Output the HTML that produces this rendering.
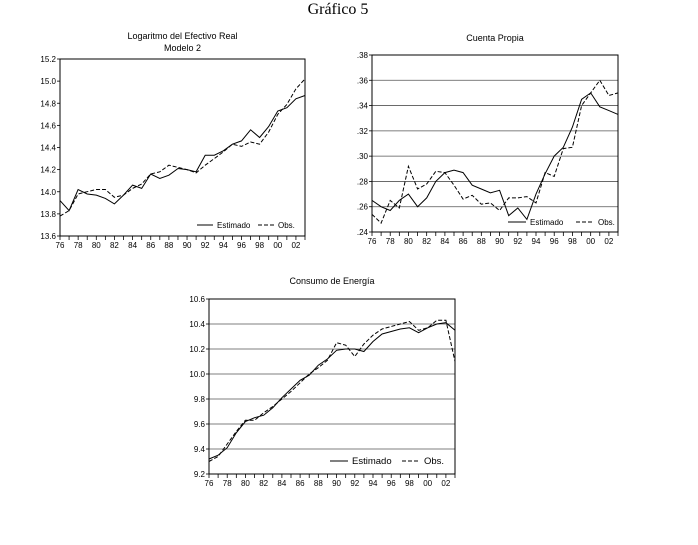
<!DOCTYPE html>
<html><head><meta charset="utf-8">
<style>
html,body{margin:0;padding:0;background:#fff;width:698px;height:545px;overflow:hidden}
svg{display:block}
text{font-family:"Liberation Sans",Arial,sans-serif;fill:#000}
</style></head>
<body>
<svg id="svg" width="698" height="545" viewBox="0 0 698 545">
<text x="338" y="14" text-anchor="middle" style="font-family:'Liberation Serif',serif;font-size:16px">Gráfico 5</text>
</svg>
<script>
const years = [];
for (let y = 1976; y <= 2003; y++) years.push(y);
const xTickLabels = ["76","78","80","82","84","86","88","90","92","94","96","98","00","02"];

const efectivoEst = [13.92,13.83,14.02,13.98,13.97,13.94,13.89,13.97,14.06,14.03,14.16,14.12,14.15,14.21,14.20,14.18,14.33,14.33,14.37,14.43,14.46,14.56,14.49,14.59,14.73,14.76,14.84,14.87];
const efectivoObs = [13.78,13.83,13.98,14.00,14.02,14.02,13.95,13.97,14.03,14.07,14.16,14.18,14.24,14.22,14.20,14.17,14.24,14.30,14.36,14.43,14.41,14.45,14.43,14.54,14.70,14.79,14.93,15.02];
const efectivoTicks = [13.6,13.8,14.0,14.2,14.4,14.6,14.8,15.0,15.2];

const cuentaEst = [.265,.260,.257,.265,.270,.260,.267,.280,.287,.289,.287,.277,.274,.271,.273,.253,.259,.250,.270,.286,.300,.307,.323,.345,.350,.339,.336,.333];
const cuentaObs = [.254,.247,.265,.259,.292,.274,.278,.288,.287,.277,.266,.269,.262,.263,.257,.267,.267,.268,.263,.287,.284,.306,.307,.340,.350,.360,.348,.350];
const cuentaTicks = [.24,.26,.28,.30,.32,.34,.36,.38];

const energiaEst = [9.32,9.35,9.41,9.53,9.62,9.65,9.67,9.73,9.81,9.88,9.95,9.99,10.07,10.12,10.19,10.20,10.20,10.18,10.26,10.32,10.34,10.36,10.37,10.33,10.37,10.40,10.41,10.35];
const energiaObs = [9.30,9.34,9.44,9.54,9.63,9.63,9.69,9.74,9.80,9.86,9.93,10.00,10.05,10.11,10.25,10.23,10.14,10.24,10.31,10.36,10.38,10.40,10.42,10.35,10.37,10.43,10.43,10.10];
const energiaTicks = [9.2,9.4,9.6,9.8,10.0,10.2,10.4,10.6];

const NS = "http://www.w3.org/2000/svg";
const svg = document.getElementById('svg');
function mk(tag, attrs, parent) {
  const e = document.createElementNS(NS, tag);
  for (const k in attrs) e.setAttribute(k, attrs[k]);
  (parent || svg).appendChild(e);
  return e;
}

function drawChart(cfg) {
  const g = mk('g', {});
  
  
  const {L, R, T, B} = cfg;
  const y0 = cfg.ticks[0], y1 = cfg.ticks[cfg.ticks.length - 1];
  const xs = i => L + (R - L) * i / (years.length - 1);
  const ys = v => B - (B - T) * (v - y0) / (y1 - y0);

  cfg.titleLines.forEach((t, i) => {
    const e = mk('text', {x: (L + R) / 2, y: cfg.titleY + i * 12, 'text-anchor': 'middle', 'font-size': 9}, g);
    e.textContent = t;
    
    
  });

  cfg.ticks.forEach(v => {
    const y = ys(v);
    if (cfg.grid && v !== y0 && v !== y1) {
      const gl = mk('line', {x1: L, x2: R, y1: y, y2: y, stroke: '#555', 'stroke-width': 0.8}, g);
      
      
    }
    mk('line', {x1: L - 3, x2: L, y1: y, y2: y, stroke: '#000', 'stroke-width': 0.8}, g);
    const t = mk('text', {x: L - 4, y: y + 3, 'text-anchor': 'end', 'font-size': 8}, g);
    t.textContent = cfg.fmt(v);
    
    
  });

  years.forEach((yr, i) => {
    mk('line', {x1: xs(i), x2: xs(i), y1: B, y2: B + 4, stroke: '#000', 'stroke-width': 0.8}, g);
  });
  xTickLabels.forEach(lbl => {
    let yr = parseInt(lbl, 10); yr += yr < 50 ? 2000 : 1900;
    const i = years.indexOf(yr);
    const t = mk('text', {x: xs(i), y: B + 12, 'text-anchor': 'middle', 'font-size': 8}, g);
    t.textContent = lbl;
    
    
  });

  const frame = mk('rect', {x: L, y: T, width: R - L, height: B - T, fill: 'none', stroke: '#000', 'stroke-width': 1}, g);
  
  

  const pts = arr => arr.map((v, i) => xs(i).toFixed(1) + ',' + ys(v).toFixed(1)).join(' ');
  const est = mk('polyline', {points: pts(cfg.est), fill: 'none', stroke: '#000', 'stroke-width': 1}, g);
  
  
  const obs = mk('polyline', {points: pts(cfg.obs), fill: 'none', stroke: '#000', 'stroke-width': 1, 'stroke-dasharray': '4,2'}, g);
  
  

  const lg = mk('g', {}, g);
  
  
  const lx = cfg.legX, ly = cfg.legY, fs = cfg.legFs;
  mk('line', {x1: lx, x2: lx + cfg.seg, y1: ly, y2: ly, stroke: '#000', 'stroke-width': 1}, lg);
  const t1 = mk('text', {x: lx + cfg.seg + 4, y: ly + 3, 'font-size': fs}, lg);
  t1.textContent = 'Estimado';
  
  
  const dx = lx + cfg.dashOff;
  mk('line', {x1: dx, x2: dx + cfg.seg, y1: ly, y2: ly, stroke: '#000', 'stroke-width': 1, 'stroke-dasharray': '4,2'}, lg);
  const t2 = mk('text', {x: dx + cfg.seg + 4, y: ly + 3, 'font-size': fs}, lg);
  t2.textContent = 'Obs.';
  
  
}

drawChart({name: 'chart-efectivo-real', L: 60, R: 305, T: 59, B: 236,
  ticks: efectivoTicks, est: efectivoEst, obs: efectivoObs, grid: false,
  fmt: v => v.toFixed(1), titleLines: ['Logaritmo del Efectivo Real', 'Modelo 2'], titleY: 39,
  legX: 197, legY: 225, legFs: 8, seg: 16, dashOff: 61});
drawChart({name: 'chart-cuenta-propia', L: 372, R: 618, T: 55, B: 232,
  ticks: cuentaTicks, est: cuentaEst, obs: cuentaObs, grid: true,
  fmt: v => v.toFixed(2).replace(/^0/, ''), titleLines: ['Cuenta Propia'], titleY: 41,
  legX: 508, legY: 222, legFs: 8, seg: 18, dashOff: 68});
drawChart({name: 'chart-consumo-energia', L: 209, R: 455, T: 299, B: 474,
  ticks: energiaTicks, est: energiaEst, obs: energiaObs, grid: true,
  fmt: v => v.toFixed(1), titleLines: ['Consumo de Energía'], titleY: 284,
  legX: 330, legY: 461, legFs: 9.5, seg: 18, dashOff: 72});
</script>
</body></html>
